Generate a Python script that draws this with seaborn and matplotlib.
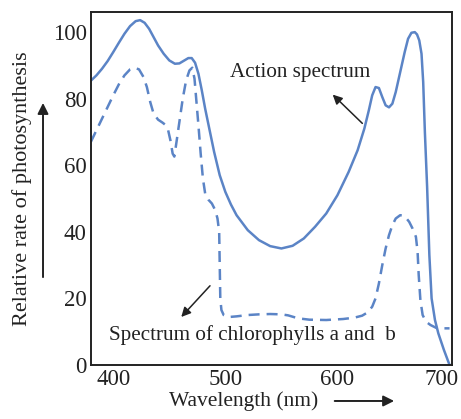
import numpy as np
import pandas as pd
import seaborn as sns
import matplotlib.pyplot as plt
from matplotlib.patches import FancyArrowPatch
from matplotlib.transforms import ScaledTranslation

# action spectrum (solid line)
action_nm = [380, 385, 390, 395, 400, 405, 410, 415, 420, 424, 428, 432, 436, 440,
             445, 450, 455, 459, 463, 467, 470, 473, 476, 479, 482, 486, 490, 495,
             500, 505, 510, 520, 530, 540, 550, 560, 570, 580, 590, 600, 610, 618,
             624, 628, 631, 634, 637, 640, 643, 646, 649, 652, 656, 660, 663, 666,
             669, 671, 673, 675, 676.5, 678, 680, 682, 684, 687, 690, 695, 700]
action_rate = [85.4, 87, 89, 91.3, 94, 96.8, 99.5, 101.8, 103.3, 103.6, 102.8, 101, 98.5, 96,
               93.5, 91.5, 90.5, 90.6, 91.4, 92.2, 92.2, 90.8, 87.5, 82.5, 77, 70.5, 64, 57,
               52, 48.2, 45, 40.5, 37.5, 35.7, 35, 35.8, 38, 41.5, 45.5, 51, 58, 64.5,
               71, 76.5, 81, 83.5, 83.2, 80.5, 78, 77.4, 78.5, 82, 88, 94, 98, 99.8,
               100, 99.3, 97.5, 93.5, 85, 70, 53.5, 33, 20, 13.5, 9.5, 4.5, 0]

# absorption spectrum of chlorophylls a and b (dashed line)
chl_nm = [380, 385, 390, 395, 400, 405, 410, 415, 419, 423, 427, 430, 433, 436,
          440, 444, 447, 449, 451, 453, 454.5, 456, 459, 462, 465, 468, 470.5, 472.5,
          474, 476, 478, 480, 482, 485, 488, 491, 493, 494.5, 495, 495.5, 496.5, 498.5,
          503, 510, 520, 530, 540, 550, 556, 565, 575, 590, 605, 615, 622, 627,
          631, 634, 637, 640, 643, 646, 649, 652, 656, 660, 664, 667, 670, 671.5,
          672.5, 674, 676, 679, 683, 689, 700]
chl_rate = [67, 70.5, 74, 77.5, 81, 84.3, 87, 88.8, 89.3, 88.8, 86.5, 83.5, 79, 75.5,
            73.7, 72.8, 72, 70.5, 67.5, 63.5, 62.6, 66, 73, 80, 85.5, 88.5, 89.3, 86,
            80, 72, 63.5, 56, 51.5, 49.6, 48.5, 46.5, 44, 40, 30, 20, 16.5, 15,
            14.4, 14.6, 15, 15.2, 15.3, 15.2, 14.9, 14, 13.6, 13.5, 13.8, 14.2, 14.8, 15.8,
            17.5, 20, 24.5, 30, 35, 39, 42, 44, 45, 44.7, 43, 41, 38.5, 34,
            27, 19.5, 15, 13, 12, 11, 11]

x_ticks = [400, 500, 600, 700]
y_ticks = [0, 20, 40, 60, 80, 100]

BLUE = "#5b84c6"
INK = "#222222"

sns.set_theme(style="white")
plt.rcParams['font.family'] = ['Liberation Serif', 'DejaVu Serif']

fig = plt.figure(figsize=(4.61, 4.19), dpi=100)
ax = fig.add_axes([0.197, 0.129, 0.783, 0.842])

action = pd.DataFrame({"nm": action_nm, "rate": action_rate})
chl = pd.DataFrame({"nm": chl_nm, "rate": chl_rate})

sns.lineplot(data=action, x="nm", y="rate", ax=ax, color=BLUE, linewidth=1.8,
             sort=False, estimator=None)
sns.lineplot(data=chl, x="nm", y="rate", ax=ax, color=BLUE, linewidth=1.8,
             sort=False, estimator=None, linestyle=(0, (4.4, 2.8)))

ax.set_xlim(380, 702)
ax.set_ylim(0, 106)
ax.set_xticks(x_ticks)
ax.set_yticks(y_ticks)
ax.tick_params(direction="in", length=7, width=1.2, labelsize=16.5, colors=INK, pad=3)
for s in ax.spines.values():
    s.set_color(INK)
    s.set_linewidth(1.4)
    s.set_visible(True)
ax.set_xlabel("")
ax.set_ylabel("")

# nudge the "700" label left, as in the original, so it stays inside the picture
last = ax.get_xticklabels()[-1]
last.set_transform(last.get_transform() + ScaledTranslation(-8 / 100, 0, fig.dpi_scale_trans))

# curve labels with arrows
ax.text(567, 87.8, "Action spectrum", fontsize=15.2, color=INK, ha="center", va="center")
ax.annotate("", xy=(594, 81.8), xytext=(624, 72),
            arrowprops=dict(arrowstyle="-|>", color=INK, lw=1.1, mutation_scale=14))
ax.text(524, 9, "Spectrum of chlorophylls a and  b", fontsize=15.2, color=INK,
        ha="center", va="center")
ax.annotate("", xy=(459, 13.8), xytext=(488, 24.4),
            arrowprops=dict(arrowstyle="-|>", color=INK, lw=1.1, mutation_scale=14))

# axis titles with their arrows
fig.text(0.048, 0.549, "Relative rate of photosynthesis", rotation=90, fontsize=16,
         color=INK, ha="center", va="center")
fig.text(0.529, 0.043, "Wavelength (nm)", fontsize=15.5, color=INK, ha="center", va="center")
fig.patches.append(FancyArrowPatch(
    (0.0933, 0.332), (0.0933, 0.761), transform=fig.transFigure, arrowstyle="-|>",
    color=INK, lw=1.4, mutation_scale=16))
fig.patches.append(FancyArrowPatch(
    (0.720, 0.043), (0.861, 0.043), transform=fig.transFigure, arrowstyle="-|>",
    color=INK, lw=1.4, mutation_scale=16))

plt.savefig("out.png", dpi=100)
